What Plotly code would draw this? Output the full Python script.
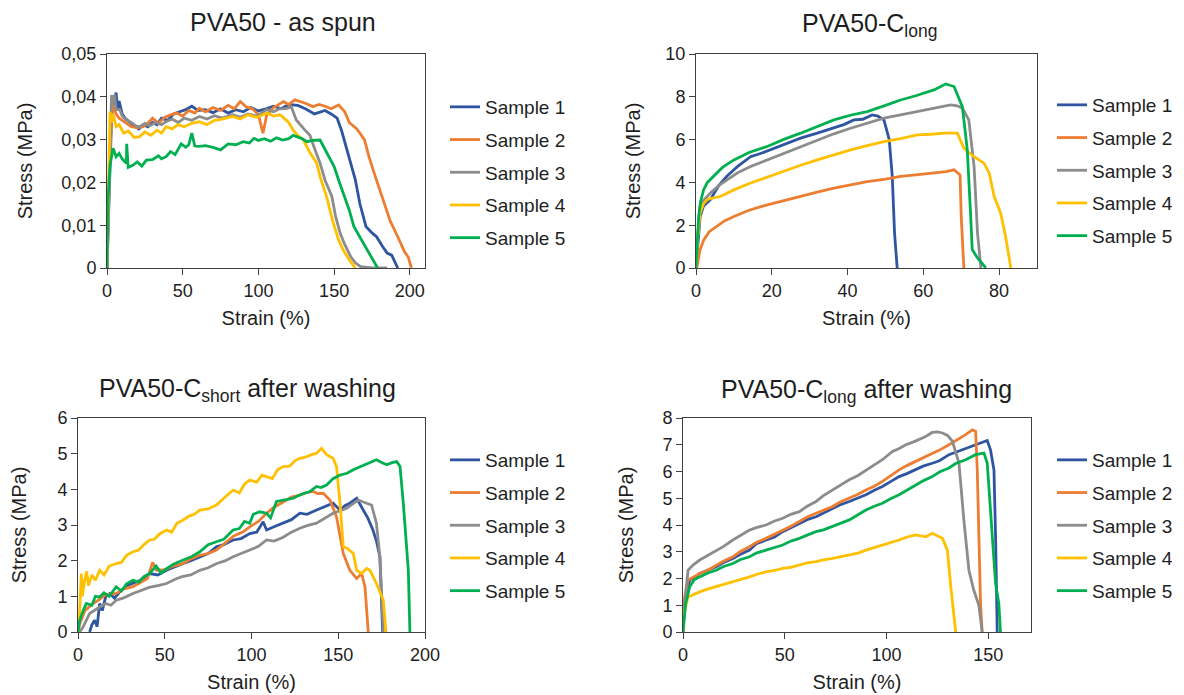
import plotly.graph_objects as go

# ---- data (strain %, stress MPa) ----
names = ["Sample 1", "Sample 2", "Sample 3", "Sample 4", "Sample 5"]
colors = ["#2F55A0", "#ED7D31", "#8C8C8C", "#FFC000", "#00B050"]

# PVA50 - as spun
spun_1 = [(0,0),(1,0.013),(2,0.026),(3,0.035),(4,0.04),(5,0.038),(6,0.041),(7,0.037),(8,0.039),(10,0.036),(12,0.035),(15,0.034),(18,0.0332),(21,0.0325),(24,0.0335),(27,0.033),(30,0.034),(33,0.0335),(36,0.035),(40,0.0345),(44,0.036),(48,0.0365),(52,0.037),(56,0.0378),(60,0.0368),(65,0.037),(70,0.0363),(75,0.0372),(80,0.0362),(85,0.037),(90,0.0365),(95,0.0375),(100,0.0367),(105,0.0372),(110,0.0378),(115,0.0372),(120,0.0382),(126,0.038),(131,0.0372),(137,0.036),(141,0.0365),(144,0.0368),(148,0.036),(152,0.035),(155,0.032),(158,0.028),(161,0.024),(164,0.0206),(167,0.015),(171,0.0097),(175,0.0082),(178,0.0073),(182,0.005),(185,0.0035),(188,0.003),(192,0)]
spun_2 = [(0,0),(1,0.014),(2,0.027),(3,0.034),(4,0.038),(6,0.036),(8,0.035),(12,0.034),(16,0.033),(20,0.0328),(24,0.033),(28,0.0342),(30,0.035),(34,0.0338),(38,0.0352),(42,0.0358),(46,0.0362),(50,0.0355),(54,0.0368),(58,0.0362),(61,0.0373),(65,0.0365),(70,0.0375),(75,0.0368),(80,0.038),(84,0.0372),(88,0.0389),(92,0.0376),(96,0.0372),(100,0.0358),(103,0.0315),(105.5,0.0358),(110,0.0375),(116.5,0.0389),(120,0.0382),(124,0.0393),(127,0.039),(131,0.0385),(136,0.0377),(140,0.0382),(144,0.0378),(148,0.0372),(153,0.0381),(157,0.0365),(160,0.034),(165,0.0325),(170,0.03),(173,0.026),(176.5,0.0221),(180,0.0185),(183,0.0152),(187,0.011),(192,0.0073),(196.5,0.0038),(199,0.0025),(201,0)]
spun_3 = [(0,0),(1,0.016),(2,0.03),(3,0.0404),(4,0.038),(5,0.0405),(6,0.037),(8.4,0.037),(10,0.0355),(13,0.0345),(16,0.034),(19,0.0332),(21.6,0.033),(25,0.0338),(28,0.0332),(32,0.034),(36,0.0335),(39,0.0342),(43,0.0348),(47,0.034),(51,0.035),(56,0.0345),(61,0.0354),(66,0.0348),(71,0.0356),(76,0.035),(83,0.0358),(88,0.0352),(93,0.036),(99,0.0355),(105.5,0.037),(110,0.0365),(114,0.0372),(119,0.0373),(121.7,0.0377),(125,0.0346),(130,0.0325),(134,0.031),(137,0.028),(140.7,0.0245),(144,0.0205),(148.5,0.0167),(151,0.012),(154,0.0081),(157,0.0055),(161,0.0026),(164,0.0012),(167.5,0.0003),(175,0),(185,0)]
spun_4 = [(0,0),(1,0.022),(2,0.0365),(3,0.034),(4,0.036),(6,0.033),(8,0.0335),(11,0.0315),(14,0.032),(18,0.0305),(21.6,0.0307),(25,0.0318),(29,0.031),(33,0.0322),(36,0.0315),(39,0.033),(43,0.0325),(47,0.0335),(51,0.033),(56,0.0338),(61,0.0342),(66,0.0335),(71,0.0345),(76,0.0348),(83,0.0354),(88,0.0348),(93,0.0358),(99,0.0352),(105.5,0.0362),(110,0.0355),(114,0.0358),(116,0.0353),(120,0.034),(123,0.0322),(126,0.031),(129.5,0.03),(134,0.027),(138.5,0.0245),(141,0.021),(145,0.0167),(149,0.011),(153,0.0065),(156,0.0042),(160,0.0019),(164,0)]
spun_5 = [(0,0),(0.7,0.016),(2,0.024),(4,0.028),(6,0.026),(8,0.0268),(10,0.0255),(12.8,0.0245),(13,0.029),(14,0.0235),(17,0.024),(20,0.0248),(23,0.0238),(26,0.0252),(30,0.0253),(34,0.0262),(36,0.0255),(39,0.026),(42,0.0272),(45,0.0265),(49,0.029),(52,0.0282),(54,0.0288),(56,0.0315),(58,0.0285),(61,0.0284),(65,0.0286),(70,0.0282),(75,0.0276),(80,0.029),(85,0.0288),(90,0.0295),(94,0.0292),(97,0.0303),(100,0.0298),(104,0.0302),(108,0.0296),(112,0.0304),(116,0.0299),(120,0.0302),(123,0.031),(125,0.0307),(129,0.0302),(132,0.0295),(136,0.0298),(140.7,0.0299),(145,0.027),(150,0.0237),(153,0.0205),(156,0.0175),(160,0.0135),(163,0.0097),(167,0.0072),(171,0.005),(175,0.0025),(178.7,0)]

# PVA50-C long
long_1 = [(0,0),(0.5,1.2),(1.1,2.4),(2,2.9),(3.8,3.2),(6,3.85),(8.2,4.3),(11,4.75),(14.4,5.2),(17,5.35),(20.5,5.6),(24,5.85),(27.6,6.07),(32,6.3),(36.4,6.53),(39,6.7),(41.7,6.92),(44,6.95),(46.5,7.15),(48,7.1),(49.6,6.92),(50.3,6.5),(51,6.0),(51.8,4.28),(52.4,1.63),(53.1,0)]
long_2 = [(0,0),(0.3,0.08),(1,0.8),(2,1.3),(3.5,1.7),(5.5,1.94),(7.5,2.2),(10,2.41),(14,2.7),(18.8,2.95),(23,3.15),(27.6,3.34),(32,3.55),(36.4,3.73),(41,3.9),(45.2,4.04),(50,4.15),(54,4.28),(58,4.35),(62.8,4.43),(66,4.5),(68.1,4.59),(69.7,4.35),(70,2.41),(70.7,0)]
long_3 = [(0,0),(0.5,1.6),(1.1,2.88),(2.2,3.2),(3.8,3.5),(6,3.85),(8.2,4.12),(11,4.45),(14.4,4.74),(18.8,5.05),(23.2,5.37),(27.6,5.68),(32,5.99),(36.4,6.27),(40.8,6.53),(45.2,6.78),(49.6,7.0),(54,7.15),(58.4,7.31),(62.8,7.47),(67.2,7.62),(69,7.58),(70.3,7.47),(72,6.92),(73.4,4.74),(74.3,1.63),(75.2,0)]
long_4 = [(0,0),(0.5,1.5),(1.1,2.57),(2,3.0),(2.9,3.19),(4,3.25),(6.4,3.34),(10,3.65),(14.4,3.97),(18.8,4.25),(23.2,4.51),(27.6,4.8),(32,5.05),(36.4,5.3),(40.8,5.52),(45.2,5.72),(49.6,5.91),(54,6.05),(58.4,6.22),(62,6.25),(65.5,6.3),(69,6.3),(70.7,5.6),(72,5.4),(73.4,5.2),(76,4.9),(77.4,4.43),(78.7,3.34),(80.4,2.57),(81.7,1.48),(83.1,0)]
long_5 = [(0,0),(0.3,1.2),(0.7,2.41),(1.2,3.1),(2,3.65),(3,4.0),(4.7,4.28),(7,4.7),(10,5.05),(14,5.4),(18.8,5.68),(23,6.0),(27.6,6.3),(32,6.6),(36.4,6.92),(41,7.15),(45.2,7.31),(50,7.6),(54,7.85),(58,8.05),(62.8,8.32),(65.9,8.6),(68.1,8.48),(70.3,7.54),(71.6,5.52),(72.5,2.41),(72.9,0.86),(74.3,0.47),(76,0.08),(76.5,0)]

# PVA50-C short after washing
short_w_1 = [(6.7,0),(8,0.2),(9.6,0.33),(11,0.15),(12.5,0.8),(14,0.6),(16,1.0),(18.3,1.08),(21,0.95),(24,1.12),(28,1.3),(31.7,1.36),(36,1.45),(41.3,1.64),(46,1.6),(51,1.73),(55,1.8),(60.6,1.92),(65,2.0),(70.2,2.11),(75,2.2),(79.8,2.39),(84,2.45),(89.4,2.58),(94,2.62),(99,2.76),(103,2.8),(106.7,3.09),(108.7,2.86),(113,2.95),(118.3,3.05),(123,3.15),(127.9,3.33),(132,3.3),(137.5,3.42),(142,3.5),(147,3.61),(151,3.42),(154,3.55),(156.7,3.61),(160.6,3.75),(164.4,3.42),(167,3.2),(170,2.86),(172,2.55),(174,2.11),(175.6,0)]
short_w_2 = [(0,0),(1,0.23),(4,0.6),(8.7,0.8),(12,0.9),(16,1.05),(22,1.08),(26,1.2),(31.7,1.27),(36,1.4),(40,1.5),(43,1.95),(45.2,1.73),(50,1.75),(55,1.85),(60.6,1.92),(65,2.05),(70,2.15),(75,2.2),(79.8,2.3),(85,2.5),(90,2.7),(95,2.8),(99,2.95),(104,3.1),(108.7,3.33),(113,3.5),(118.3,3.66),(123,3.78),(127.9,3.84),(131,3.9),(135.6,3.94),(138,3.88),(141.3,3.89),(145.2,3.7),(149,3.23),(152.9,2.2),(156.7,1.73),(160.6,1.5),(163.5,1.64),(165.4,1.27),(167.3,0)]
short_w_3 = [(1,0),(2.9,0.14),(6.7,0.52),(9,0.6),(12.5,0.7),(16,0.8),(19,0.75),(22,0.89),(26,0.95),(31.7,1.08),(36,1.15),(41,1.25),(46,1.3),(51,1.36),(56,1.48),(60,1.55),(65,1.6),(70.2,1.73),(75,1.8),(80,1.92),(85,2.0),(89.4,2.11),(94,2.2),(99,2.3),(104,2.4),(108.7,2.58),(113,2.55),(118,2.65),(123,2.8),(127.9,2.91),(132,2.98),(137.5,3.05),(142,3.18),(147,3.33),(151,3.4),(154.8,3.47),(158,3.58),(161.5,3.7),(166.3,3.61),(169.2,3.56),(172,3.05),(174,2.11),(176,0)]
short_w_4 = [(0,0),(1,0.61),(1.9,1.64),(2.5,1.0),(3.8,1.45),(5,1.7),(6,1.3),(8,1.6),(10,1.45),(12.5,1.73),(15,1.6),(18,1.85),(22,1.92),(25,1.95),(28,2.15),(31.7,2.25),(35,2.3),(38,2.45),(41.3,2.58),(44,2.6),(47,2.75),(51,2.86),(54,2.8),(57,3.05),(60.6,3.14),(64,3.25),(67,3.3),(70.2,3.42),(75,3.45),(79.8,3.56),(84,3.75),(89.4,3.98),(93,3.9),(96,4.15),(99,4.26),(103,4.2),(106,4.4),(108.7,4.36),(112,4.3),(115,4.55),(118.3,4.64),(122,4.65),(125,4.8),(127.9,4.87),(131,4.9),(135,4.98),(137.5,5.01),(140.4,5.15),(143.3,4.97),(147,4.87),(149,4.64),(151,3.61),(152.9,2.39),(155,2.35),(158.7,2.2),(160.6,1.73),(163.5,1.64),(166.3,1.78),(168.3,1.73),(172,1.36),(176,0.89),(177.5,0)]
short_w_5 = [(0,0),(1,0.33),(3,0.6),(4.8,0.8),(8,0.75),(10,1.0),(12.5,0.98),(15,1.1),(18,1.0),(22,1.27),(25,1.15),(28,1.35),(31.7,1.45),(35,1.4),(38,1.55),(41.3,1.64),(45,1.85),(48,1.65),(51,1.78),(55,1.9),(60.6,2.02),(65,2.1),(70.2,2.25),(75,2.45),(79.8,2.53),(84,2.6),(89.4,2.86),(93,2.9),(96,3.1),(99,3.05),(101,3.3),(104.8,3.37),(108.7,3.33),(111,3.2),(114.4,3.66),(119,3.7),(124,3.75),(128,3.85),(133.7,3.94),(137.5,4.08),(140,4.05),(143.3,4.12),(147,4.3),(151,4.4),(155,4.45),(158.7,4.55),(162,4.62),(166.3,4.69),(169,4.75),(172,4.83),(175,4.75),(177.9,4.69),(181,4.75),(183.7,4.78),(185.6,4.64),(187.5,3.61),(190.4,1.73),(191.3,0)]

# PVA50-C long after washing
long_w_1 = [(0,0),(0.8,1.19),(3.3,1.94),(6,2.05),(8.2,2.19),(12,2.3),(16.3,2.44),(20,2.6),(24.5,2.75),(28,2.9),(32.7,3.06),(36,3.3),(40.8,3.44),(45,3.55),(49,3.75),(53,3.9),(57.2,4.06),(61,4.2),(65.4,4.31),(69,4.45),(73.5,4.63),(77,4.75),(81.7,4.88),(86,5.0),(89.9,5.13),(94,5.3),(98,5.44),(102,5.62),(106.2,5.81),(110,5.92),(114.4,6.06),(118,6.2),(122.5,6.31),(126,6.4),(130.7,6.63),(134,6.72),(138.9,6.88),(142,6.95),(145.4,7.06),(149.5,7.16),(151.1,6.81),(152.8,6.06),(153.6,3.56),(154.4,0)]
long_w_2 = [(0,0),(0.8,1.31),(2.5,1.94),(5,2.05),(8.2,2.19),(12,2.3),(16.3,2.5),(20,2.65),(24.5,2.81),(28,3.0),(32.7,3.19),(36,3.35),(40.8,3.5),(45,3.65),(49,3.81),(53,3.95),(57.2,4.13),(61,4.3),(65.4,4.44),(69,4.55),(73.5,4.69),(77,4.85),(81.7,5.0),(86,5.15),(89.9,5.31),(94,5.45),(98,5.63),(102,5.85),(106.2,6.06),(110,6.22),(114.4,6.38),(118,6.5),(122.5,6.69),(126,6.8),(130.7,7.0),(134,7.15),(138.9,7.38),(142.2,7.56),(143.8,7.5),(144.6,6.06),(145.4,3.56),(146.2,1.06),(147,0)]
long_w_3 = [(0,0),(0.8,1.06),(2.5,2.31),(4.9,2.5),(8.2,2.69),(12,2.85),(16.3,3.06),(20,3.2),(24.5,3.44),(28,3.6),(32.7,3.81),(36,3.9),(40.8,4.0),(45,4.15),(49,4.25),(53,4.4),(57.2,4.5),(61,4.7),(65.4,4.88),(69,5.1),(73.5,5.31),(77,5.45),(81.7,5.69),(86,5.85),(89.9,6.06),(94,6.25),(98,6.44),(102.9,6.75),(106,6.85),(109.5,7.0),(113,7.1),(116,7.19),(119,7.3),(122.5,7.46),(125,7.48),(127.5,7.44),(130,7.35),(132.4,7.13),(135.6,6.31),(138,4.19),(140.5,2.31),(142.9,1.56),(145.4,1.0),(147,0)]
long_w_4 = [(0,0),(0.8,0.81),(2.5,1.31),(5,1.4),(8.2,1.5),(12,1.6),(16.3,1.69),(20,1.78),(24.5,1.88),(28,1.95),(32.7,2.06),(36,2.15),(40.8,2.25),(45,2.3),(49,2.38),(53,2.42),(57.2,2.5),(61,2.58),(65.4,2.63),(69,2.7),(73.5,2.75),(77,2.8),(81.7,2.88),(86,2.95),(89.9,3.06),(94,3.15),(98,3.25),(102,3.35),(106.2,3.44),(110,3.55),(114.4,3.63),(119.3,3.56),(122.5,3.69),(127.5,3.5),(129.9,3.06),(131.6,1.69),(133.2,0.44),(134,0)]
long_w_5 = [(0,0),(1.3,1.06),(3.3,1.69),(5.5,1.95),(8.2,2.06),(12,2.2),(16.3,2.31),(20,2.45),(24.5,2.56),(28,2.7),(32.7,2.81),(36,2.95),(40.8,3.06),(45,3.15),(49,3.25),(53,3.4),(57.2,3.5),(61,3.62),(65.4,3.75),(69,3.82),(73.5,3.94),(77,4.05),(81.7,4.19),(86,4.4),(89.9,4.56),(94,4.7),(98,4.81),(102,4.98),(106.2,5.13),(110,5.3),(114.4,5.5),(118,5.65),(122.5,5.81),(126,5.98),(130.7,6.13),(134,6.3),(138.9,6.44),(143.8,6.63),(147.9,6.69),(149.5,6.31),(152,3.56),(153.6,1.81),(155.2,1.06),(156,0)]

panels = [
    [spun_1, spun_2, spun_3, spun_4, spun_5],
    [long_1, long_2, long_3, long_4, long_5],
    [short_w_1, short_w_2, short_w_3, short_w_4, short_w_5],
    [long_w_1, long_w_2, long_w_3, long_w_4, long_w_5],
]
titles = ["PVA50 - as spun", "PVA50-C<sub>long</sub>",
          "PVA50-C<sub>short</sub> after washing", "PVA50-C<sub>long</sub> after washing"]

W, H = 1184, 695
OFF = 8  # the page body adds an 8px margin, so pull everything up/left
FONT = "Liberation Sans, Arial, sans-serif"
TXT = "#1e1e1e"

fig = go.Figure()

for p, curves in enumerate(panels):
    sfx = "" if p == 0 else str(p + 1)
    for i, pts in enumerate(curves):
        fig.add_trace(go.Scatter(
            x=[a for a, b in pts], y=[b for a, b in pts],
            mode="lines", name=names[i],
            line=dict(color=colors[i], width=2.8),
            xaxis="x" + sfx, yaxis="y" + sfx,
            legend="legend" + sfx, legendgroup=f"p{p}s{i}",
        ))

# plot-area boxes in screen pixels: (left, right, top, bottom)
boxes = [(107, 425, 54, 268), (696, 1037, 54, 268),
         (78, 425, 418, 632), (683, 1031, 418, 632)]
xranges = [[0, 210], [0, 90], [0, 200], [0, 171]]
xdticks = [50, 20, 50, 50]
yranges = [[0, 0.05], [0, 10], [0, 6], [0, 8]]
ydticks = [0.01, 2, 1, 1]
ystandoff = [23, 19, 26, 23]
title_pos = [(283, 22), (869, 25), (247, 390), (866, 391)]
legend_x = [445, 1052, 445, 1052]
legend_top = [88, 86, 441, 441]


def px(v):
    return (v - OFF) / W


def py(v):
    return 1 - (v - OFF) / H


axis_common = dict(showline=True, linecolor="#404040", linewidth=1, mirror=True,
                   ticks="outside", ticklen=6, tickcolor="#404040",
                   showgrid=False, zeroline=False, automargin=False,
                   tickfont=dict(family=FONT, size=18, color=TXT))

layout = dict(
    width=W, height=H, margin=dict(l=0, r=0, t=0, b=0),
    paper_bgcolor="white", plot_bgcolor="white",
    separators=",.", font=dict(family=FONT, color=TXT),
    annotations=[],
)
for p in range(4):
    sfx = "" if p == 0 else str(p + 1)
    l, r, t, b = boxes[p]
    layout["xaxis" + sfx] = dict(axis_common, domain=[px(l), px(r)], range=xranges[p],
                                 dtick=xdticks[p], anchor="y" + sfx,
                                 title=dict(text="Strain (%)", font=dict(size=20), standoff=11))
    layout["yaxis" + sfx] = dict(axis_common, domain=[py(b), py(t)], range=yranges[p],
                                 dtick=ydticks[p], anchor="x" + sfx,
                                 title=dict(text="Stress (MPa)", font=dict(size=20),
                                            standoff=ystandoff[p]))
    layout["legend" + sfx] = dict(x=px(legend_x[p]), y=py(legend_top[p]),
                                  xanchor="left", yanchor="top",
                                  font=dict(family=FONT, size=19, color=TXT),
                                  tracegroupgap=5, bgcolor="rgba(0,0,0,0)")
    tx, ty = title_pos[p]
    layout["annotations"].append(dict(
        text=titles[p], x=px(tx), y=py(ty), xref="paper", yref="paper",
        xanchor="center", yanchor="middle",
        showarrow=False, font=dict(family=FONT, size=25, color=TXT)))

fig.update_layout(**layout)
fig.write_html("out.html")
